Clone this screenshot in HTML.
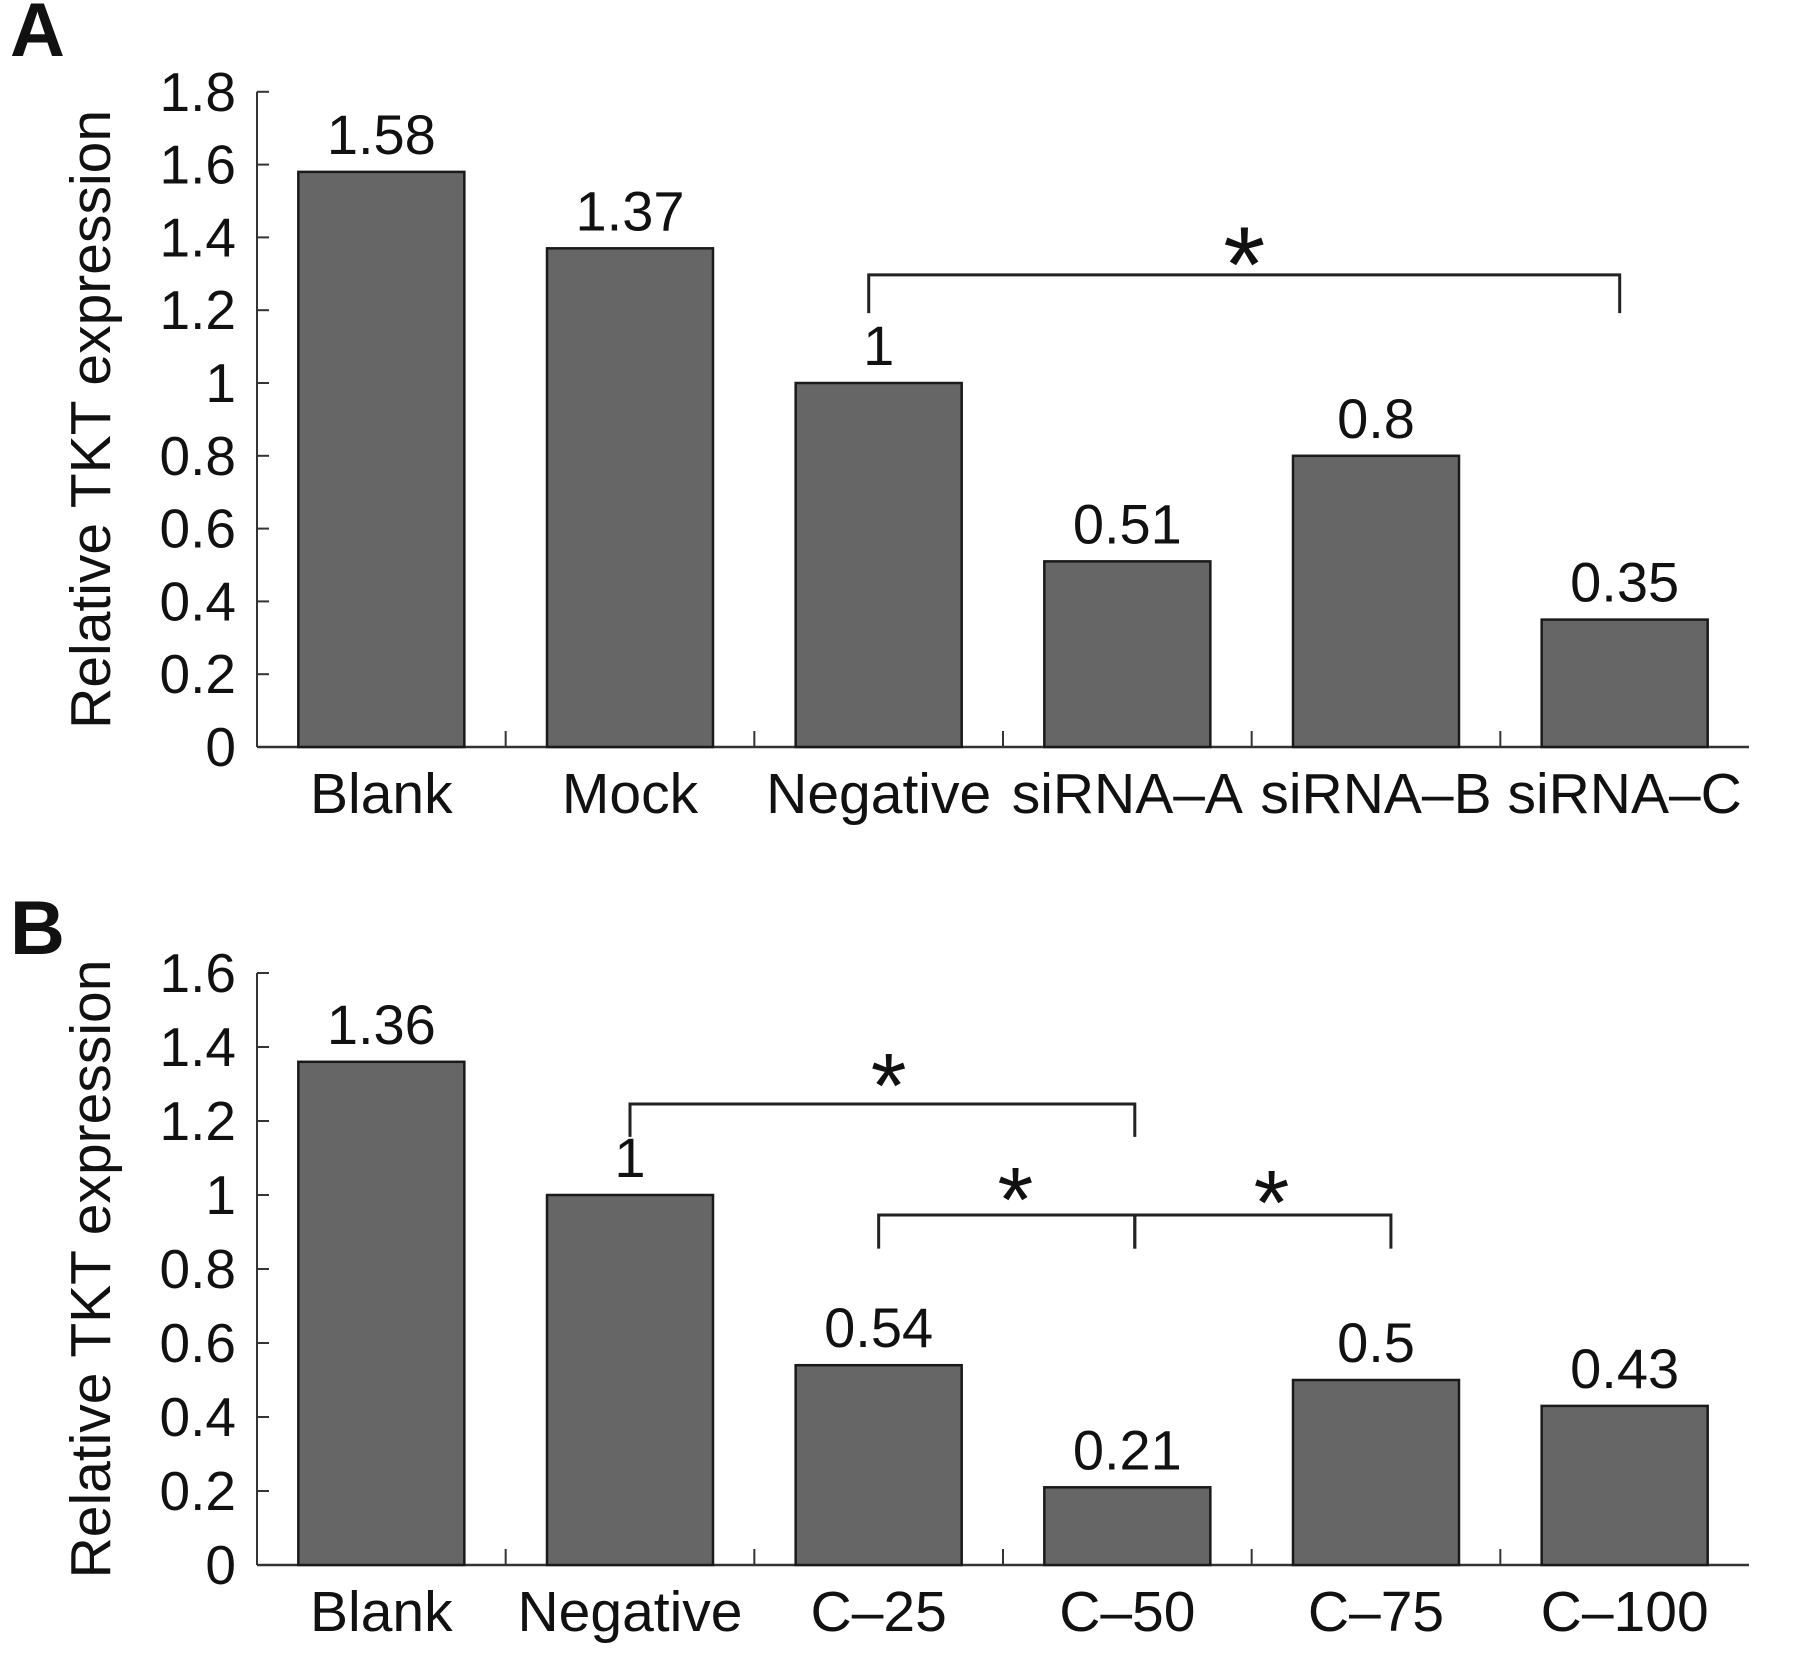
<!DOCTYPE html>
<html><head><meta charset="utf-8"><style>
html,body{margin:0;padding:0;background:#fff}
svg{display:block}
text{font-family:"Liberation Sans",Arial,sans-serif;fill:#111}
</style></head><body>
<svg id="chart" width="1795" height="1654" viewBox="0 0 1795 1654" xmlns="http://www.w3.org/2000/svg"></svg>
<script>
const catsA = ["Blank","Mock","Negative","siRNA\u2013A","siRNA\u2013B","siRNA\u2013C"];
const valsA = [1.58,1.37,1,0.51,0.8,0.35];
const labelsA = ["1.58","1.37","1","0.51","0.8","0.35"];
const ticksA = [0,0.2,0.4,0.6,0.8,1,1.2,1.4,1.6,1.8];
const tickLabelsA = ["0","0.2","0.4","0.6","0.8","1","1.2","1.4","1.6","1.8"];
const catsB = ["Blank","Negative","C\u201325","C\u201350","C\u201375","C\u2013100"];
const valsB = [1.36,1,0.54,0.21,0.5,0.43];
const labelsB = ["1.36","1","0.54","0.21","0.5","0.43"];
const ticksB = [0,0.2,0.4,0.6,0.8,1,1.2,1.4,1.6];
const tickLabelsB = ["0","0.2","0.4","0.6","0.8","1","1.2","1.4","1.6"];
// brackets: [fromCatPos, toCatPos, lineValue, tipValue]
const bracketsA = [[2.46,5.48,1.297,1.192]];
const bracketsB = [[1.5,3.53,1.246,1.157],[2.5,3.53,0.946,0.855],[3.53,4.56,0.946,0.855]];
// stars: [catPos, centerValue]
const starsA = [[3.97,1.387]];
const starsB = [[2.54,1.346],[3.05,1.038],[4.08,1.030]];

const svg = document.getElementById('chart');
const NS = 'http://www.w3.org/2000/svg';
function mk(tag, attrs){const e=document.createElementNS(NS,tag);for(const k in attrs)e.setAttribute(k,attrs[k]);svg.appendChild(e);return e;}

function panel(cfg){
  const x0=257, x1=1749, y0=cfg.y0, ppu=cfg.ppu;
  const bw=(x1-x0)/cfg.cats.length;
  const X=i=>x0+bw*(i+0.5);
  const P=p=>x0+bw*p;
  const Y=v=>y0-v*ppu;
  const letter=mk('text',{x:10,y:cfg.letterY,'font-size':76,'font-weight':'bold'});
  letter.textContent=cfg.letter;
  
  
  const top=Y(cfg.ticks[cfg.ticks.length-1]);
  const yax=mk('line',{x1:x0,y1:top,x2:x0,y2:y0,stroke:'#333','stroke-width':2});
  
  
  const xax=mk('line',{x1:x0,y1:y0,x2:x1,y2:y0,stroke:'#333','stroke-width':2.5});
  
  
  cfg.ticks.forEach((t,i)=>{
    const tk=mk('line',{x1:x0,y1:Y(t),x2:x0+12,y2:Y(t),stroke:'#333','stroke-width':2});
    
    
    const tl=mk('text',{x:236,y:Y(t)+19,'font-size':55,'text-anchor':'end'});
    tl.textContent=cfg.tickLabels[i];
    
    
  });
  for(let i=1;i<cfg.cats.length;i++){
    const cx=x0+bw*i;
    const ct=mk('line',{x1:cx,y1:y0,x2:cx,y2:y0-16,stroke:'#333','stroke-width':2});
    
    
  }
  cfg.cats.forEach((c,i)=>{
    const b=mk('rect',{x:X(i)-83,y:Y(cfg.vals[i]),width:166,height:cfg.vals[i]*ppu,fill:'#666',stroke:'#1a1a1a','stroke-width':2.5});
    
    
    const vl=mk('text',{x:X(i),y:Y(cfg.vals[i])-18,'font-size':56,'text-anchor':'middle'});
    vl.textContent=cfg.labels[i];
    
    
    const cl=mk('text',{x:X(i),y:y0+66,'font-size':57,'text-anchor':'middle'});
    cl.textContent=c;
    
    
  });
  const yt=mk('text',{x:0,y:0,'font-size':57,'text-anchor':'middle',transform:`translate(110,${(top+y0)/2}) rotate(-90)`});
  yt.textContent='Relative TKT expression';
  
  
  cfg.brackets.forEach(br=>{
    const a=P(br[0]),b=P(br[1]),ly=Y(br[2]),ty=Y(br[3]);
    const p=mk('path',{d:`M${a},${ty} L${a},${ly} L${b},${ly} L${b},${ty}`,fill:'none',stroke:'#222','stroke-width':3});
    
    
  });
  cfg.stars.forEach(s=>{
    const fs=cfg.starSize;
    const st=mk('text',{x:P(s[0]),y:Y(s[1])+fs*0.55,'font-size':fs,'text-anchor':'middle'});
    st.textContent='*';
    
    
  });
}
panel({letter:'A',letterY:56,y0:747,ppu:364,cats:catsA,vals:valsA,labels:labelsA,ticks:ticksA,tickLabels:tickLabelsA,brackets:bracketsA,stars:starsA,starSize:108});
panel({letter:'B',letterY:954,y0:1565,ppu:370,cats:catsB,vals:valsB,labels:labelsB,ticks:ticksB,tickLabels:tickLabelsB,brackets:bracketsB,stars:starsB,starSize:92});
</script>
</body></html>
